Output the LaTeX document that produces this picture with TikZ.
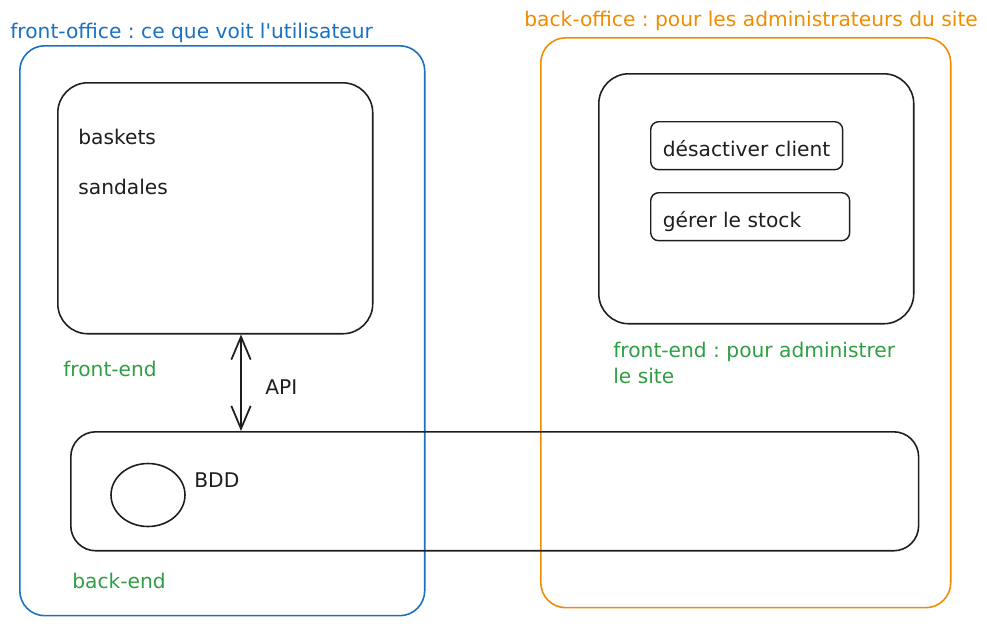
\documentclass[tikz,border=0pt]{standalone}
\usepackage{fontspec}
\setmainfont{DejaVu Sans}
\usetikzlibrary{arrows.meta,positioning,shapes.geometric}
\definecolor{inkblue}{HTML}{1971C2}
\definecolor{inkorange}{HTML}{F08C00}
\definecolor{inkgreen}{HTML}{2F9E44}
\definecolor{ink}{HTML}{1E1E1E}

\begin{document}
\frenchspacing
\begin{tikzpicture}[x=0.02cm,y=-0.02cm,>={Straight Barb[length=13pt,width=11pt]},
  font=\fontsize{11.5}{14.5}\selectfont,
  box/.style={draw=ink,line width=0.9pt,rounded corners=0.5cm,anchor=north west,inner sep=0pt},
  smallbox/.style={draw=ink,line width=0.8pt,rounded corners=0.16cm,anchor=north west,inner sep=0pt,text=ink},
  label/.style={anchor=west,inner sep=0pt,text=ink},
  note/.style={anchor=west,inner sep=0pt,text=inkgreen,align=left}]
\useasboundingbox (0,0) rectangle (987,626);
% the two offices
\node[box,draw=inkblue,minimum width=8.1cm,minimum height=11.4cm] (front office) at (19,45) {};
\node[box,draw=inkorange,minimum width=8.2cm,minimum height=11.4cm] (back office) at (540,37) {};
\node[anchor=west,inner sep=0pt,text=inkblue] (front title) at (10,33) {front-office : ce que voit l\textquotesingle utilisateur};
\node[anchor=west,inner sep=0pt,text=inkorange] (back title) at (524,21) {back-office : pour les administrateurs du site};
% front-end
\node[box,rounded corners=0.6cm,minimum width=6.3cm,minimum height=5.02cm] (front) at (57,82) {};
\node[label] (baskets) at (78,137) {baskets};
\node[label] (sandales) at (78,187) {sandales};
\node[note] (front end) at (63,369) {front-end};
% back-end
\node[box,minimum width=16.96cm,minimum height=2.38cm] (back) at (70,431) {};
\node[draw=ink,line width=0.9pt,ellipse,minimum width=1.48cm,minimum height=1.26cm] (bdd) at (148,495) {};
\node[label] (bdd label) at (194,480) {BDD};
\node[note] (back end) at (72,581) {back-end};
% admin
\node[box,rounded corners=0.6cm,minimum width=6.3cm,minimum height=5.0cm] (admin) at (598,73) {};
\node[smallbox,minimum width=3.84cm,minimum height=0.96cm] (disable) at (650,121) {};
\node[label] at (disable.west) [xshift=0.25cm,yshift=-0.05cm] {désactiver client};
\node[smallbox,minimum width=3.98cm,minimum height=0.96cm] (stock) at (650,192) {};
\node[label] at (stock.west) [xshift=0.25cm,yshift=-0.1cm] {gérer le stock};
\node[note] (admin end) at (613,363) {front-end : pour administrer\\le site};
% API
\coordinate (api x) at (241,0);
\draw[<->,draw=ink,line width=1pt] (front.south -| api x) -- (back.north -| api x);
\node[label] (api) at (265,387) {API};
\end{tikzpicture}
\end{document}
